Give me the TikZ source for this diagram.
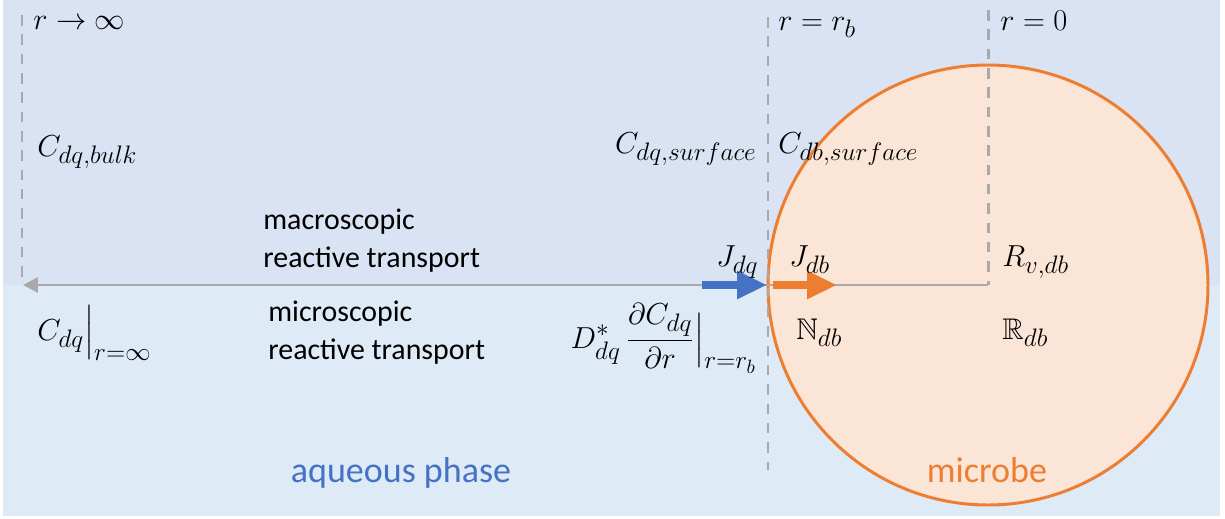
\documentclass[tikz,border=0pt]{standalone}
\usepackage{amsmath,amssymb}
\usepackage{fontspec}
\setmainfont{Carlito}
\usetikzlibrary{arrows.meta}
\DeclareMathSizes{17}{17}{13.5}{11}

\definecolor{bgtop}{HTML}{DAE3F3}
\definecolor{bgbottom}{HTML}{DEEBF7}
\definecolor{cellfill}{HTML}{FBE5D6}
\definecolor{cellline}{HTML}{ED7D31}
\definecolor{fluxblue}{HTML}{4472C4}
\definecolor{axisgrey}{HTML}{A9A9A9}

\begin{document}
\begin{tikzpicture}[
        x=0.02cm, y=-0.02cm,
        boundary/.style={draw=axisgrey, line width=1.7pt, dash pattern=on 6pt off 5pt},
        axis/.style={draw=axisgrey, line width=1.7pt, -{Triangle[length=8.5pt, width=8.5pt]}},
        flux/.style={line width=4pt, -{Triangle[length=17pt, width=15pt]}},
        cell/.style={fill=cellfill, draw=cellline, line width=1.7pt},
        sym/.style={inner sep=0pt, font=\fontsize{17}{20}\selectfont},
        caption/.style={inner sep=0pt, align=left, font=\fontsize{17}{21.5}\selectfont},
        phase/.style={inner sep=0pt, font=\fontsize{20.5}{24}\selectfont}]
        \useasboundingbox (0,0) rectangle (1225,518);

        % Two background bands: macroscopic above the axis, microscopic below.
        \fill[bgtop] (3,0) rectangle (1220,285);
        \fill[bgbottom] (3,285) rectangle (1220,516);

        % The microbe, centred on r = 0.
        \coordinate (centre) at (988,285);
        \draw[cell] (centre) circle (220);

        % Positions r -> infinity, r = r_b and r = 0.
        \foreach \x/\ytop/\ybot in {22/15/283, 768/17/470, 988/10/285} {
                \draw[boundary] (\x,\ytop) -- (\x,\ybot);
        }

        % Radial axis and the two fluxes across the cell surface.
        \coordinate (farfield) at (23,285);
        \coordinate (surface) at (767,285);
        \coordinate (qstart) at (702,285);
        \coordinate (bstart) at (773,285);
        \coordinate (btip) at (837,285);
        \draw[axis] (centre) -- (farfield);
        \draw[flux, fluxblue] (qstart) -- (surface);
        \draw[flux, cellline] (bstart) -- (btip);

        % Labels at the boundaries.
        \node[sym, anchor=base west] (rinf) at (33,29) {$r \to \infty$};
        \node[sym, anchor=base west] (rb) at (778,30) {$r = r_b$};
        \node[sym, anchor=base west] (rzero) at (1000,30) {$r = 0$};
        \node[sym, anchor=base west] (cbulk) at (37,156) {$C_{dq,bulk}$};
        \node[sym, anchor=base east] (csurfq) at (757,153) {$C_{dq,surface}$};
        \node[sym, anchor=base west] (csurfb) at (778,153) {$C_{db,surface}$};
        \node[sym, anchor=base west] (jdq) at (716,266) {$J_{dq}$};
        \node[sym, anchor=base west] (jdb) at (789,266) {$J_{db}$};
        \node[sym, anchor=base west] (rvdb) at (1002,266) {$R_{v,db}$};
        \node[sym, anchor=base west] (ndb) at (796,339) {$\mathbb{N}_{db}$};
        \node[sym, anchor=base west] (rdb) at (1002,339) {$\mathbb{R}_{db}$};
        \node[sym, anchor=base west] (cinf) at (37,340)
                {$C_{dq}\Big|_{r=\infty}$};
        \node[sym, anchor=base east] (dflux) at (757,348)
                {$D^{*}_{dq}\,\dfrac{\partial C_{dq}}{\partial r}\Big|_{r=r_b}$};

        % Scale captions and phase names.
        \node[caption, anchor=base west] (macro) at (263,267)
                {macroscopic\\reactive transport};
        \node[caption, anchor=base west] (micro) at (268,359)
                {microscopic\\reactive transport};
        \node[phase, anchor=base, text=fluxblue] (aqueous) at (401,482) {aqueous phase};
        \node[phase, anchor=base, text=cellline] (microbe) at (987,482) {microbe};
\end{tikzpicture}
\end{document}
